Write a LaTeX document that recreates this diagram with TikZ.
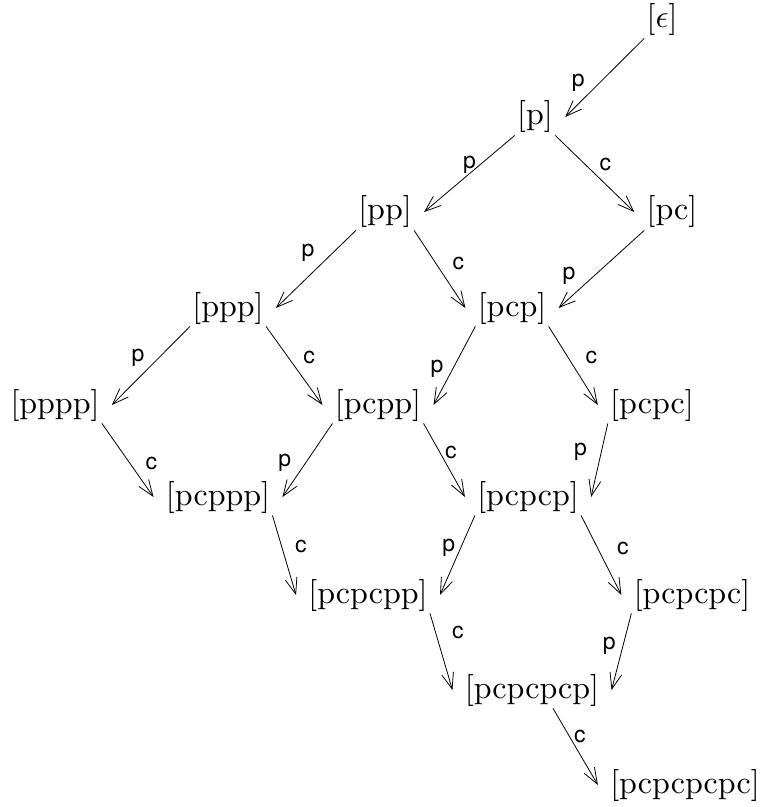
\documentclass[tikz,border=0pt]{standalone}
\usepackage{fontspec}
\usetikzlibrary{arrows.meta}
\newfontfamily\lblfont{TeX Gyre Heros}
\newcommand{\cls}[1]{\scalebox{1.6}{#1}}
\begin{document}
\begin{tikzpicture}[x=0.5pt,y=-0.5pt,
  n/.style={inner xsep=1pt,inner ysep=1pt},
  a/.style={-{Straight Barb[length=8pt,width=6pt]},thin},
  l/.style={font=\fontsize{11.5}{13}\lblfont,inner sep=0pt}]
\useasboundingbox (0,0) rectangle (760,807);
\node[n](e) at (662,20){\cls{[$\epsilon$]}};
\node[n](p) at (535,117){\cls{[p]}};
\node[n](pp) at (385,212){\cls{[pp]}};
\node[n](pc) at (672,212){\cls{[pc]}};
\node[n](ppp) at (228,308){\cls{[ppp]}};
\node[n](pcp) at (512,308){\cls{[pcp]}};
\node[n](pppp) at (55,405){\cls{[pppp]}};
\node[n](pcpp) at (378,405){\cls{[pcpp]}};
\node[n](pcpc) at (652,405){\cls{[pcpc]}};
\node[n](pcppp) at (218,497){\cls{[pcppp]}};
\node[n](pcpcp) at (528,497){\cls{[pcpcp]}};
\node[n](pcpcpp) at (368,595){\cls{[pcpcpp]}};
\node[n](pcpcpc) at (692,595){\cls{[pcpcpc]}};
\node[n](pcpcpcp) at (532,690){\cls{[pcpcpcp]}};
\node[n](pcpcpcpc) at (685,785){\cls{[pcpcpcpc]}};
% p edges go down-left, c edges down-right
\draw[a](e.south west)--node[l,left=7.5pt,pos=0.56]{p}([xshift=5pt]p.east);
\draw[a](p.south west)--node[l,left=1.5pt,pos=0.39]{p}([xshift=5pt]pp.east);
\draw[a](p.south east)--node[l,right=7pt,pos=0.38]{c}([xshift=-5pt]pc.west);
\draw[a](pp.south west)--node[l,left=9pt,pos=0.29]{p}([xshift=5pt]ppp.east);
\draw[a](pp.south east)--node[l,right=8pt,pos=0.43]{c}([xshift=-5pt]pcp.west);
\draw[a](pc.south west)--node[l,left=9pt,pos=0.59]{p}([xshift=5pt]pcp.east);
\draw[a](ppp.south west)--node[l,left=7pt,pos=0.4]{p}([xshift=5pt]pppp.east);
\draw[a](ppp.south east)--node[l,right=7.5pt,pos=0.39]{c}([xshift=-5pt]pcpp.west);
\draw[a](pcp.south west)--node[l,left=4.5pt,pos=0.54]{p}([xshift=5pt]pcpp.east);
\draw[a](pcp.south east)--node[l,right=8.5pt,pos=0.4]{c}([xshift=-5pt]pcpc.west);
\draw[a](pppp.south east)--node[l,right=7.5pt,pos=0.55]{c}([xshift=-5pt]pcppp.west);
\draw[a](pcpp.south west)--node[l,left=7pt,pos=0.54]{p}([xshift=5pt]pcppp.east);
\draw[a](pcpp.south east)--node[l,right=2.5pt,pos=0.39]{c}([xshift=-5pt]pcpcp.west);
\draw[a](pcpc.south west)--node[l,left=7pt,pos=0.39]{p}([xshift=5pt]pcpcp.east);
\draw[a](pcppp.south east)--node[l,right=6.5pt,pos=0.39]{c}([xshift=-5pt]pcpcpp.west);
\draw[a](pcpcp.south west)--node[l,left=2.5pt,pos=0.41]{p}([xshift=5pt]pcpcpp.east);
\draw[a](pcpcp.south east)--node[l,right=9.5pt,pos=0.41]{c}([xshift=-5pt]pcpcpc.west);
\draw[a](pcpcpp.south east)--node[l,right=8pt,pos=0.25]{c}([xshift=-5pt]pcpcpcp.west);
\draw[a](pcpcpc.south west)--node[l,left=3.5pt,pos=0.42]{p}([xshift=5pt]pcpcpcp.east);
\draw[a]([xshift=10.5pt]pcpcpcp.south)--node[l,right=2.25pt,pos=0.36]{c}([xshift=-5pt]pcpcpcpc.west);
\end{tikzpicture}
\end{document}
